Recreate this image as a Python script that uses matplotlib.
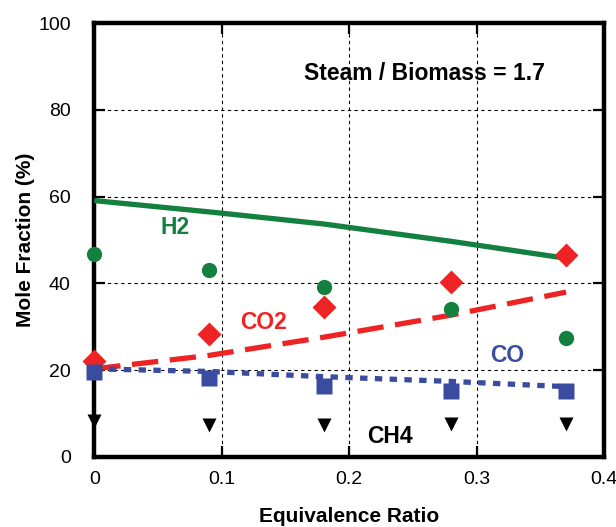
import matplotlib
matplotlib.use('Agg')
import matplotlib.pyplot as plt

plt.rcParams['font.family'] = ['Liberation Sans', 'DejaVu Sans']

# equivalence ratio for the measured points
er = [0, 0.09, 0.18, 0.28, 0.37]

# measured mole fractions (%)
h2_meas = [46.8, 43.1, 39.2, 34.1, 27.5]
co2_meas = [22.0, 28.3, 34.6, 40.3, 46.5]
co_meas = [19.6, 18.2, 16.4, 15.3, 15.3]
ch4_meas = [8.2, 7.3, 7.4, 7.6, 7.6]

# model curves (%)
h2_model = [59.1, 56.5, 53.7, 49.7, 45.8]
co2_model = [20.3, 23.4, 27.6, 32.7, 38.0]
co_model = [20.3, 19.7, 18.5, 17.4, 16.2]

green = '#13803f'
red = '#ee2424'
blue = '#3a4ca0'

fig = plt.figure(figsize=(6.16, 5.27), dpi=100)
ax = fig.add_axes([0.153, 0.133, 0.828, 0.823])

# model lines
ax.plot(er, h2_model, color=green, lw=3.8, solid_capstyle='butt', zorder=3)
ax.plot(er, co2_model, color=red, lw=3.8, dashes=(5, 2.2), zorder=3)
ax.plot(er, co_model, color=blue, lw=3.8, dashes=(1.4, 1.4), zorder=3)

# measured points
ax.plot(er, h2_meas, 'o', color=green, ms=11, mec='none', zorder=4, clip_on=False)
ax.plot(er, co2_meas, 'D', color=red, ms=12, mec='none', zorder=4, clip_on=False)
ax.plot(er, co_meas, 's', color=blue, ms=12, mec='none', zorder=4, clip_on=False)
ax.plot(er, ch4_meas, 'v', color='black', ms=10, mec='none', zorder=4, clip_on=False)

# labels inside the plot
lab = dict(fontsize=16.5, fontweight='bold', ha='center', va='center')
ax.text(0.063, 52.8, 'H2', color=green, **lab)
ax.text(0.133, 31.1, 'CO2', color=red, **lab)
ax.text(0.324, 23.3, 'CO', color=blue, **lab)
ax.text(0.232, 4.8, 'CH4', color='black', **lab)
ax.text(0.259, 88.5, 'Steam / Biomass = 1.7', color='black', **lab)

ax.set_xlim(0, 0.4)
ax.set_ylim(0, 100)
ax.set_xticks([0, 0.1, 0.2, 0.3, 0.4])
ax.set_xticklabels(['0', '0.1', '0.2', '0.3', '0.4'])
ax.set_yticks([0, 20, 40, 60, 80, 100])

ax.grid(True, color='black', lw=0.8, linestyle=(0, (3, 3)))
ax.set_axisbelow(True)

for s in ax.spines.values():
    s.set_linewidth(3.2)
ax.tick_params(direction='in', length=8, width=1.6, top=True, right=True,
               labelsize=14)
ax.tick_params(axis='x', pad=10)
ax.tick_params(axis='y', pad=17)

ax.set_xlabel('Equivalence Ratio', fontsize=15, fontweight='bold', labelpad=14)
ax.set_ylabel('Mole Fraction (%)', fontsize=15, fontweight='bold', labelpad=2)

fig.savefig('out.png', dpi=100)
